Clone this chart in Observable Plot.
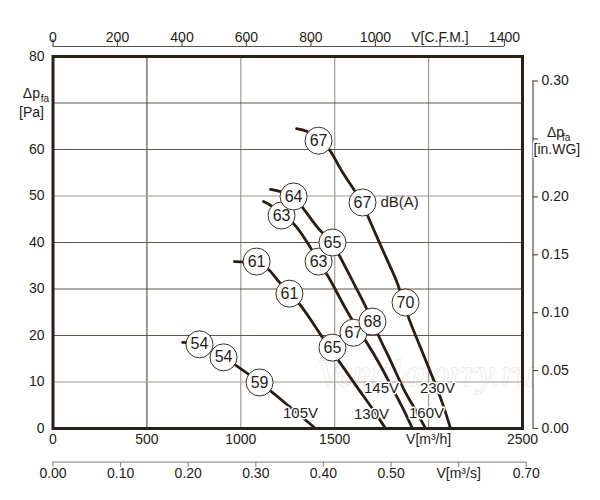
<!DOCTYPE html>
<html>
<head>
<meta charset="utf-8">
<script src="https://cdn.jsdelivr.net/npm/d3@7"></script>
<script src="https://cdn.jsdelivr.net/npm/@observablehq/plot@0.6"></script>
<style>
  html, body { margin: 0; padding: 0; background: #ffffff; }
  #chart svg { display: block; }
</style>
</head>
<body>
<div id="chart"></div>
<script>
// ---------- data ----------
const voltages = ["105V", "130V", "145V", "160V", "230V"];

const flow105 = [690, 780, 908, 1100, 1254, 1398];
const pres105 = [18.5, 18.1, 15.3, 9.9, 4.9, 0];

const flow130 = [966, 1084, 1142, 1211, 1318, 1435, 1531, 1621, 1707, 1771];
const pres130 = [35.9, 35.7, 34.4, 31.2, 26.5, 19.6, 14.0, 8.8, 3.9, 0];

const flow145 = [1121, 1169, 1216, 1280, 1371, 1414, 1462, 1558, 1627, 1664, 1744, 1813, 1877, 1914];
const pres145 = [48.8, 47.7, 45.8, 44.1, 38.9, 35.9, 32.9, 25.8, 21.1, 18.9, 13.5, 8.2, 3.2, 0];

const flow160 = [1158, 1206, 1281, 1329, 1414, 1488, 1552, 1616, 1680, 1733, 1797, 1866, 1941, 1984];
const pres160 = [51.4, 51.0, 49.9, 47.5, 43.0, 39.8, 35.1, 30.1, 24.9, 20.0, 14.6, 8.6, 3.2, 0];

const flow230 = [1297, 1350, 1414, 1467, 1536, 1611, 1648, 1675, 1728, 1781, 1834, 1893, 1957, 2021, 2074, 2117];
const pres230 = [64.5, 63.9, 61.9, 60.2, 55.5, 50.8, 48.4, 45.8, 40.9, 36.1, 31.2, 23.9, 17.4, 11.0, 5.4, 0];

// sound level markers dB(A)
const dbVoltage = ["105V","105V","105V","130V","130V","130V","145V","145V","145V","160V","160V","160V","230V","230V","230V"];
const dbFlow    = [780, 908, 1100, 1084, 1259, 1488, 1217, 1414, 1600, 1281, 1488, 1701, 1414, 1648, 1877];
const dbPres    = [18.1, 15.3, 9.9, 35.9, 29.0, 17.4, 45.8, 35.9, 20.6, 49.9, 40.0, 23.0, 61.9, 48.6, 27.1];
const dbValue   = [54, 54, 59, 61, 61, 65, 63, 63, 67, 64, 65, 68, 67, 67, 70];

// voltage label anchors
const voltLabelFlow = [1318, 1696, 1749, 1989, 2047];
const voltLabelPres = [3.2, 3.0, 8.6, 3.4, 8.6];

// axes
const flowTicks = [0, 500, 1000, 1500, 2000, 2500];
const flowTickLabels = ["0", "500", "1000", "1500", "V[m³/h]", "2500"];
const pressureTicks = [0, 10, 20, 30, 40, 50, 60, 80];
const gridFlow = [500, 1000, 1500, 2000];
const gridPres = [10, 20, 30, 40, 50, 60, 70];
const cfmTicks = [0, 200, 400, 600, 800, 1000, 1200, 1400];
const cfmTickLabels = ["0", "200", "400", "600", "800", "1000", "V[C.F.M.]", "1400"];
const m3sTicks = [0, 0.1, 0.2, 0.3, 0.4, 0.5, 0.6, 0.7];
const m3sTickLabels = ["0.00", "0.10", "0.20", "0.30", "0.40", "0.50", "V[m³/s]", "0.70"];
const inwgTicks = [0, 0.05, 0.10, 0.15, 0.20, 0.25, 0.30];
const inwgTickLabels = ["0.00", "0.05", "0.10", "0.15", "0.20", "", "0.30"];

// unit conversions (as drawn on the chart)
const M3H_PER_CFM = 1.717;
const M3H_PER_M3S = 3600;
const PA_PER_INWG = 249.1;

// ---------- build ----------
const seriesFlow = {"105V": flow105, "130V": flow130, "145V": flow145, "160V": flow160, "230V": flow230};
const seriesPres = {"105V": pres105, "130V": pres130, "145V": pres145, "160V": pres160, "230V": pres230};
const curveRows = voltages.flatMap(v => seriesFlow[v].map((f, i) => ({v, flow: f, p: seriesPres[v][i]})));
const dbRows = dbValue.map((d, i) => ({v: dbVoltage[i], flow: dbFlow[i], p: dbPres[i], db: d}));
const voltRows = voltages.map((v, i) => ({v, flow: voltLabelFlow[i], p: voltLabelPres[i]}));

const INK = "#231d17";
const LINE = "#2b1d12";
const GRID_DARK = "#5f564c";
const GRID_LIGHT = "#a29b92";
const FONT = "'Liberation Sans', Arial, Helvetica, sans-serif";

const dbMarks = voltages.flatMap(v => {
  const rows = dbRows.filter(r => r.v === v);
  return [
    Plot.dot(rows, {x: "flow", y: "p", r: 13.5, fill: "white", stroke: "#3a2f25", strokeWidth: 1}),
    Plot.text(rows, {x: "flow", y: "p", text: d => String(d.db), fontSize: 16, fill: INK})
  ];
});

const chart = Plot.plot({
  width: 600,
  height: 500,
  marginLeft: 52.5,
  marginRight: 78,
  marginTop: 56,
  marginBottom: 72,
  x: {domain: [0, 2500], axis: null},
  y: {domain: [0, 80], axis: null},
  style: {fontFamily: FONT, fontSize: "14px", color: INK, background: "white"},
  marks: [
    // watermark
    Plot.text(["Ventilatorry.ru"], {frameAnchor: "bottom-right", dx: 12, dy: -43, fontSize: 37,
      textAnchor: "end", fontStyle: "italic", fontFamily: "'Liberation Serif', 'Times New Roman', serif",
      fill: "#fdfdfd", stroke: "#e0e0e0", strokeWidth: 1}),
    // grid
    Plot.ruleX(gridFlow.filter(d => d === 500), {stroke: GRID_DARK, strokeWidth: 1.2}),
    Plot.ruleX(gridFlow.filter(d => d !== 500), {stroke: GRID_LIGHT, strokeWidth: 1.2}),
    Plot.ruleY(gridPres.filter(d => d !== 10 && d !== 50), {stroke: GRID_DARK, strokeWidth: 1.2}),
    Plot.ruleY(gridPres.filter(d => d === 10 || d === 50), {stroke: GRID_LIGHT, strokeWidth: 1.2}),
    // curves
    Plot.line(curveRows, {x: "flow", y: "p", z: "v", curve: "monotone-x", stroke: LINE, strokeWidth: 2.8}),
    // voltage labels
    Plot.text(voltRows, {x: "flow", y: "p", text: "v", fontSize: 15, fill: INK,
      stroke: "white", strokeWidth: 3, paintOrder: "stroke"}),
    // dB(A) circles
    ...dbMarks,
    Plot.text(["dB(A)"], {x: () => 1744, y: () => 48.6, textAnchor: "start", fontSize: 15, fill: INK}),
    // frame
    Plot.frame({stroke: "#2b2016", strokeWidth: 3}),
    // left axis labels
    Plot.text(pressureTicks, {y: d => d, text: d => String(d), frameAnchor: "left", dx: -8.5, textAnchor: "end", fontSize: 14, fill: INK}),
    Plot.text(["Δp"], {y: () => 70, frameAnchor: "left", dx: -13, dy: -9, textAnchor: "end", fontSize: 14, fill: INK}),
    Plot.text(["fa"], {y: () => 70, frameAnchor: "left", dx: -4, dy: -4.5, textAnchor: "end", fontSize: 10, fill: INK}),
    Plot.text(["[Pa]"], {y: () => 70, frameAnchor: "left", dx: -9, dy: 9.5, textAnchor: "end", fontSize: 14, fill: INK}),
    // bottom m3/h labels
    Plot.text(flowTicks, {x: d => d, text: (d, i) => flowTickLabels[i], frameAnchor: "bottom", dy: 15, fontSize: 14, fill: INK}),
    // top CFM axis
    Plot.ruleY([80], {x1: () => 0, x2: () => 1400 * M3H_PER_CFM, dy: -10, stroke: "#5a5148", strokeWidth: 1.2}),
    Plot.ruleX(cfmTicks, {x: d => d * M3H_PER_CFM, insetTop: -17, insetBottom: 382, stroke: "#5a5148", strokeWidth: 1.2}),
    Plot.text(cfmTicks, {x: d => d * M3H_PER_CFM, text: (d, i) => cfmTickLabels[i], frameAnchor: "top", dy: -24, fontSize: 14, fill: INK}),
    // right in.WG axis
    Plot.ruleX([2500], {y1: () => 0, y2: () => 0.30 * PA_PER_INWG, dx: 10.5, stroke: "#5a5148", strokeWidth: 1.2}),
    Plot.ruleY(inwgTicks, {y: d => d * PA_PER_INWG, insetLeft: 480, insetRight: -16, stroke: "#5a5148", strokeWidth: 1.2}),
    Plot.text(inwgTicks, {y: d => d * PA_PER_INWG, text: (d, i) => inwgTickLabels[i], frameAnchor: "right", dx: 19, textAnchor: "start", fontSize: 14, fill: INK}),
    Plot.text(["[in.WG]"], {y: () => 0.25 * PA_PER_INWG, frameAnchor: "right", dx: 11, dy: 10.5, textAnchor: "start", fontSize: 14, fill: INK, stroke: "white", strokeWidth: 3, paintOrder: "stroke"}),
    Plot.text(["Δp"], {y: () => 0.25 * PA_PER_INWG, frameAnchor: "right", dx: 24.5, dy: -6.5, textAnchor: "start", fontSize: 14, fill: INK, stroke: "white", strokeWidth: 3, paintOrder: "stroke"}),
    Plot.text(["fa"], {y: () => 0.25 * PA_PER_INWG, frameAnchor: "right", dx: 39.5, dy: -1, textAnchor: "start", fontSize: 10, fill: INK}),
    // bottom m3/s axis
    Plot.ruleY([0], {x1: () => 0, x2: () => 0.70 * M3H_PER_M3S, dy: 33.7, stroke: "#9a938b", strokeWidth: 1.2}),
    Plot.ruleX(m3sTicks, {x: d => d * M3H_PER_M3S, insetTop: 405.7, insetBottom: -39, stroke: "#9a938b", strokeWidth: 1.2}),
    Plot.text(m3sTicks, {x: d => d * M3H_PER_M3S, text: (d, i) => m3sTickLabels[i], frameAnchor: "bottom", dy: 49, fontSize: 14, fill: INK})
  ]
});

document.getElementById("chart").appendChild(chart);
</script>
</body>
</html>
